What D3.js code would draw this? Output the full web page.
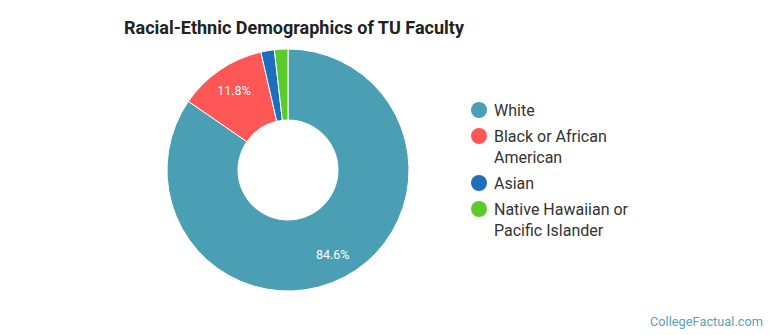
<!DOCTYPE html>
<html>
<head>
<meta charset="utf-8">
<script src="https://cdn.jsdelivr.net/npm/d3@7"></script>
<style>
  body { margin: 0; background: #fff; }
  text { font-family: Roboto, "Noto Sans", sans-serif; }
</style>
</head>
<body>
<svg id="chart"></svg>
<script>
// data
const categories = ["White", "Black or African American", "Asian", "Native Hawaiian or Pacific Islander"];
const values = [84.6, 11.8, 1.8, 1.8];
const legendLines = [["White"], ["Black or African", "American"], ["Asian"], ["Native Hawaiian or", "Pacific Islander"]];
const colors = ["#4a9fb4", "#ff5656", "#1d6fbd", "#5bcb2b"];

const width = 770, height = 335;
const svg = d3.select("#chart").attr("width", width).attr("height", height);

svg.append("text")
  .attr("x", 124).attr("y", 34)
  .style("font-size", "18px").style("font-weight", "bold").attr("fill", "#222")
  .text("Racial-Ethnic Demographics of TU Faculty");

const cx = 288, cy = 170, outerR = 121, innerR = 50;
const data = categories.map((c, i) => ({ name: c, value: values[i] }));
const pie = d3.pie().value(d => d.value).sort(null);
const arc = d3.arc().innerRadius(innerR).outerRadius(outerR);
const labelArc = d3.arc().innerRadius(96).outerRadius(96);

const g = svg.append("g").attr("transform", `translate(${cx},${cy})`);
const arcs = pie(data);
g.selectAll("path").data(arcs).enter().append("path")
  .attr("d", arc)
  .attr("fill", (d, i) => colors[i])
  .attr("stroke", "#fff").attr("stroke-width", 1);

g.selectAll(".lbl").data(arcs.filter(d => d.data.value > 5)).enter().append("text")
  .attr("class", "lbl")
  .attr("transform", d => `translate(${labelArc.centroid(d)})`)
  .attr("text-anchor", "middle").attr("dy", "0.35em")
  .style("font-size", "12.5px").attr("fill", "#fff")
  .text(d => d.data.value.toFixed(1) + "%");

// legend
const lg = svg.append("g");
let y = 110;
legendLines.forEach((lines, i) => {
  lg.append("circle").attr("cx", 479).attr("cy", y).attr("r", 8).attr("fill", colors[i]);
  lines.forEach((t, j) => {
    lg.append("text").attr("x", 494).attr("y", y + j * 21).attr("dy", "0.35em")
      .style("font-size", "16px").attr("fill", "#333").text(t);
  });
  y += 26 + (lines.length - 1) * 21;
});

svg.append("text")
  .attr("x", 763).attr("y", 326).attr("text-anchor", "end")
  .style("font-size", "12.8px").attr("fill", "#5b9fb8")
  .text("CollegeFactual.com");
</script>
</body>
</html>
